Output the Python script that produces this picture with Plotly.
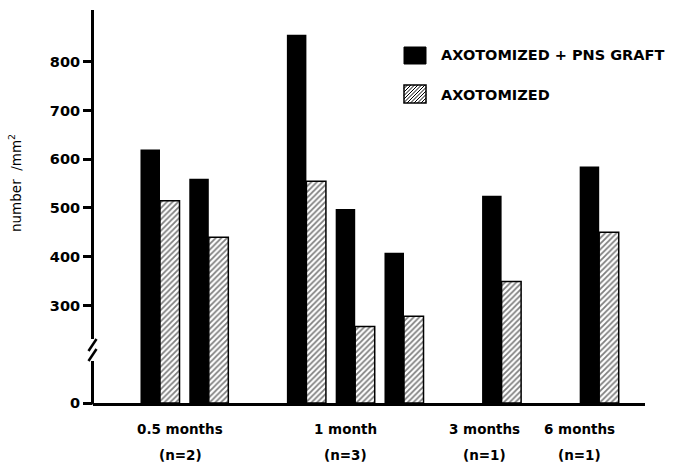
import plotly.graph_objects as go

# ---- data -------------------------------------------------------------
periods = ["0.5 months", "1 month", "3 months", "6 months"]
n_animals = [2, 3, 1, 1]
graft = [620, 560, 855, 498, 408, 525, 585]        # axotomized + PNS graft
axotomized = [515, 440, 555, 257, 278, 349, 450]   # axotomized only
y_tick_values = [0, 300, 400, 500, 600, 700, 800]

# ---- broken y scale: 0 sits where 100 would be -------------------------
def to_axis(v):
    return 0 if v == 0 else v - 100

# one slot per animal, an empty slot between time groups
slots, group_centres = [], []
pos = 0
for n in n_animals:
    s = list(range(pos, pos + n))
    slots += s
    group_centres.append(sum(s) / len(s))
    pos += n + 1

FONT = "DejaVu Sans"
W, H = 674, 468
L, R, T, B = 93, 29, 10, 65
PW, PH = W - L - R, H - T - B


def px(x):
    return (x - L) / PW


def py(y):
    return (H - B - y) / PH


fig = go.Figure()
fig.add_bar(
    x=slots, y=[to_axis(v) for v in graft], name="AXOTOMIZED + PNS GRAFT",
    marker=dict(color="black", line=dict(width=0)),
    customdata=graft, hovertemplate="%{customdata}<extra></extra>",
)
fig.add_bar(
    x=slots, y=[to_axis(v) for v in axotomized], name="AXOTOMIZED",
    marker=dict(color="white", line=dict(color="black", width=1.5),
                pattern=dict(shape="/", fgcolor="black", bgcolor="white",
                             size=4, solidity=0.45)),
    customdata=axotomized, hovertemplate="%{customdata}<extra></extra>",
)

shapes = []
# y axis line with a break between 0 and 300
for y0, y1 in [(T, 339), (361, H - B + 1.5)]:
    shapes.append(dict(type="line", xref="paper", yref="paper",
                       x0=px(92.5), x1=px(92.5), y0=py(y0), y1=py(y1),
                       line=dict(color="black", width=3)))
for dy in (0, 10):
    shapes.append(dict(type="line", xref="paper", yref="paper",
                       x0=px(96.5), y0=py(339 + dy), x1=px(88.5), y1=py(351 + dy),
                       line=dict(color="black", width=2.5)))

# legend swatches
bx0, bx1 = 404, 426
shapes.append(dict(type="rect", xref="paper", yref="paper",
                   x0=px(bx0), x1=px(bx1), y0=py(64), y1=py(47),
                   fillcolor="black", line=dict(color="black", width=1)))
hy0, hy1 = 85, 103
shapes.append(dict(type="rect", xref="paper", yref="paper",
                   x0=px(bx0), x1=px(bx1), y0=py(hy1), y1=py(hy0),
                   fillcolor="white", line=dict(color="black", width=1.5)))
h = hy1 - hy0
c = bx0 - h
while c < bx1:
    xa, ya = c, hy1
    xb, yb = c + h, hy0
    if xa < bx0:
        ya -= bx0 - xa
        xa = bx0
    if xb > bx1:
        yb += xb - bx1
        xb = bx1
    shapes.append(dict(type="line", xref="paper", yref="paper",
                       x0=px(xa), y0=py(ya), x1=px(xb), y1=py(yb),
                       line=dict(color="black", width=1)))
    c += 3.5

annotations = [
    dict(text="AXOTOMIZED + PNS GRAFT", x=px(439), y=py(55.5)),
    dict(text="AXOTOMIZED", x=px(439), y=py(95)),
]
for a in annotations:
    a.update(xref="paper", yref="paper", xanchor="left", yanchor="middle",
             showarrow=False, font=dict(family=FONT, size=14.5, color="black",
                                        weight="bold"))

# time group labels under the axis
label_nudge = [-4, -10, -17, -20]
for name, n, cx, dx in zip(periods, n_animals, group_centres, label_nudge):
    for text, y in [(name, 429), (f"(n={n})", 455)]:
        annotations.append(dict(
            text=text, x=cx, xref="x", y=py(y), yref="paper", xshift=dx,
            xanchor="center", yanchor="middle", showarrow=False,
            font=dict(family=FONT, size=13.5, color="black", weight="bold")))

annotations.append(dict(
    text="number  /mm<sup>2</sup>", x=px(15), y=py(183), xref="paper",
    yref="paper", textangle=-90, xanchor="center", yanchor="middle",
    showarrow=False, font=dict(family=FONT, size=13.5, color="black")))

slot_px = 48.8
fig.update_layout(
    width=W, height=H, margin=dict(l=L, r=R, t=T, b=B),
    paper_bgcolor="white", plot_bgcolor="white",
    barmode="group", bargap=0.2, bargroupgap=0,
    showlegend=False, shapes=shapes, annotations=annotations,
    font=dict(family=FONT, color="black"),
)
fig.update_xaxes(
    range=[(L - 160) / slot_px, (L + PW - 160) / slot_px],
    showticklabels=False, ticks="", showgrid=False, zeroline=False,
    showline=True, linecolor="black", linewidth=3,
)
fig.update_yaxes(
    range=[0, PH / 0.4876],
    tickvals=[to_axis(v) for v in y_tick_values],
    ticktext=[str(v) for v in y_tick_values],
    ticks="outside", ticklen=9, tickwidth=2.5, tickcolor="black",
    tickfont=dict(family=FONT, size=14.5, color="black", weight="bold"),
    showgrid=False, zeroline=False, showline=False,
)

fig.write_html("out.html")
